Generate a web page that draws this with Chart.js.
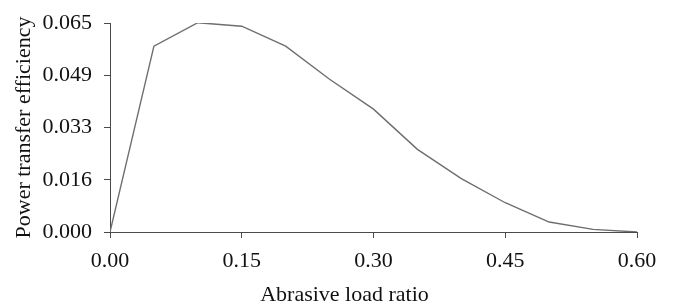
<!DOCTYPE html>
<html>
<head>
<meta charset="utf-8">
<script src="https://cdn.jsdelivr.net/npm/chart.js@4"></script>
<style>
  html, body { margin: 0; padding: 0; background: #fff; }
  #wrap { width: 673px; height: 306px; }
</style>
</head>
<body>
<div id="wrap"><canvas id="ch"></canvas></div>
<script>
// abrasive load ratio vs power transfer efficiency
const loadRatio = [0, 0.05, 0.10, 0.15, 0.20, 0.25, 0.30, 0.35, 0.40, 0.45, 0.50, 0.55, 0.60];
const efficiency = [0, 0.0578, 0.0651, 0.0640, 0.0578, 0.0475, 0.0382, 0.0257, 0.0166, 0.0091, 0.0031, 0.0008, 0];
const xTicks = [0, 0.15, 0.30, 0.45, 0.60];
const xTickLabels = ['0.00', '0.15', '0.30', '0.45', '0.60'];
const yTicks = [0, 0.01625, 0.0325, 0.04875, 0.065];
const yTickLabels = ['0.000', '0.016', '0.033', '0.049', '0.065'];
const xTitle = 'Abrasive load ratio';

const font = { family: '"Liberation Serif", "Times New Roman", serif', size: 22, lineHeight: 1 };
const axisColor = '#4a4a4a';

// x title sits a bit left of the axis centre in the original, so draw it by hand
const xTitlePlugin = {
    id: 'xTitle',
    afterDraw: c => {
        const { ctx, chartArea: a } = c;
        ctx.save();
        ctx.font = `${font.size}px ${font.family}`;
        ctx.fillStyle = '#111';
        ctx.textAlign = 'center';
        ctx.textBaseline = 'middle';
        ctx.fillText(xTitle, (a.left + a.right) / 2 - 29, c.height - 11);
        ctx.restore();
    }
};

new Chart(document.getElementById('ch'), {
    type: 'scatter',
    data: {
        datasets: [{
            data: loadRatio.map((x, i) => ({ x, y: efficiency[i] })),
            showLine: true,
            borderColor: '#6e6e6e',
            borderWidth: 1.4,
            pointRadius: 0,
            tension: 0
        }]
    },
    plugins: [xTitlePlugin],
    options: {
        responsive: true,
        maintainAspectRatio: false,
        animation: false,
        layout: { padding: { top: 16, right: 36, left: 0, bottom: 0 } },
        plugins: { legend: { display: false }, tooltip: { enabled: false } },
        scales: {
            x: {
                type: 'linear', min: 0, max: 0.6,
                afterBuildTicks: s => { s.ticks = xTicks.map(value => ({ value })); },
                afterFit: s => { s.height = 74; },
                grid: { drawOnChartArea: false, color: axisColor, tickLength: 6 },
                border: { color: axisColor, width: 1 },
                ticks: { color: '#111', font, padding: 12, maxRotation: 0,
                    callback: v => xTickLabels[xTicks.indexOf(v)] ?? '' }
            },
            y: {
                type: 'linear', min: 0, max: 0.065,
                afterBuildTicks: s => { s.ticks = yTicks.map(value => ({ value })); },
                afterFit: s => { s.width = 110; },
                grid: { drawOnChartArea: false, color: axisColor, tickLength: 6 },
                border: { color: axisColor, width: 1 },
                ticks: { color: '#111', font, padding: 12,
                    callback: v => yTickLabels[yTicks.indexOf(v)] ?? '' },
                title: { display: true, text: 'Power transfer efficiency', color: '#111', font, padding: { top: 13, bottom: 0 } }
            }
        }
    }
});
</script>
</body>
</html>
